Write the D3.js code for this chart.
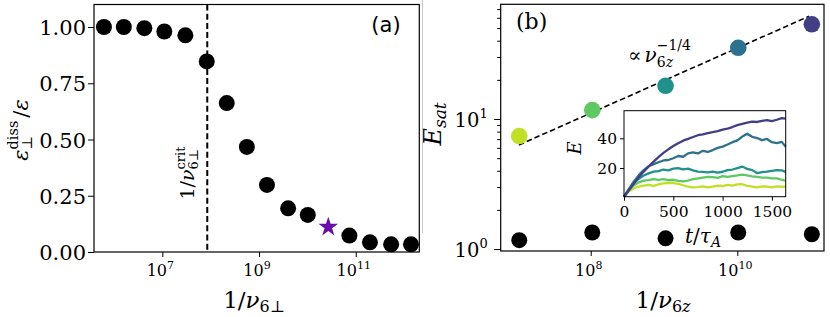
<!DOCTYPE html>
<html>
<head>
<meta charset="utf-8">
<style>
    body { margin: 0; background: #fff; }
    svg { display: block; }
    .dom path { display: none; }
    .dom line { stroke: #000; stroke-width: 1; }
</style>
<script src="https://d3js.org/d3.v7.min.js"></script>
</head>
<body>
<script>

var serif = "'DejaVu Serif', serif",
    sans = "'DejaVu Sans', sans-serif";

// panel (a): dissipation fraction vs 1/nu_6perp
var invNuPerp = [6.2e5, 1.6e6, 4.25e6, 1.1e7, 3.0e7, 8.3e7, 2.15e8, 5.6e8, 1.46e9, 4.0e9, 1.02e10, 7.4e10, 1.97e11, 5.4e11, 1.39e12];
var dissFrac  = [1.00, 1.00, 0.995, 0.98, 0.963, 0.847, 0.662, 0.467, 0.298, 0.194, 0.165, 0.073, 0.043, 0.034, 0.034];
var starX = [2.71e10];
var starY = [0.111];
var critNu = 8.5e7;
var yTicksA = [0, 0.25, 0.5, 0.75, 1.0];
var xTicksA = [1e7, 1e9, 1e11];

// panel (b): saturation energy vs 1/nu_6z
var invNuZ = [1.06e7, 1.05e8, 1.05e9, 1.03e10, 1.04e11];
var eSat   = [7.4, 11.7, 18.0, 35.3, 53.5];
var eLow   = [1.17, 1.34, 1.21, 1.34, 1.30];
var runColors = ["#c0df25", "#5ec962", "#21918c", "#2c718e", "#433e85"];
var fitX = [1.05e7, 0.95e11];
var fitCoef = 0.111, fitPow = 0.25;
var xTicksB = [1e8, 1e10];
var yTicksB = [1, 10];
var yMinorB = [2, 3, 4, 5, 6, 7, 8, 9, 20, 30, 40, 50, 60, 70];

// inset: E(t)
var tA = [0, 50, 100, 150, 200, 250, 300, 350, 400, 450, 500, 550, 600, 650, 700, 750, 800, 850, 900, 950, 1000, 1050, 1100, 1150, 1200, 1250, 1300, 1350, 1400, 1450, 1500, 1550, 1600, 1640];
var ePurple = [0.7, 5, 9.5, 13.8, 17.6, 21, 24.3, 27.4, 30.2, 32.6, 34.8, 36.7, 38.4, 39.6, 40.9, 42.1, 42.6, 43.5, 44.2, 44.8, 45.9, 46.6, 47.6, 48.9, 49.8, 50.6, 51.3, 51.0, 51.7, 52.3, 51.6, 52.5, 53.6, 53.2];
var eBlue   = [0.7, 6, 11, 15.2, 18.6, 21.2, 22.6, 23.9, 25.1, 25.4, 26.6, 28.1, 27.6, 29.9, 30.6, 29.8, 31.6, 30.8, 32.1, 33.6, 34.4, 35.8, 37.4, 38.6, 41.2, 43.1, 41, 40.2, 38.8, 39.6, 37.4, 36.8, 37.6, 34.3];
var eTeal   = [0.7, 5.6, 10, 12.8, 15, 16.4, 17.6, 17.9, 19, 18.4, 19.6, 20, 19.1, 19.6, 18.4, 17.6, 17.4, 17.1, 17.6, 16.9, 17.5, 18.6, 19, 20, 21, 19.4, 18.6, 16.6, 17.2, 17.6, 18.1, 18.6, 18.4, 17.4];
var eGreen  = [0.7, 5, 8.4, 10.4, 11.5, 11.9, 12.6, 12, 12.5, 11.8, 12.1, 11.4, 11, 11.6, 12.6, 13, 13.6, 14.1, 13.9, 13.4, 14.5, 14, 14.6, 15, 15.6, 15, 14.4, 14.1, 13.5, 13.6, 13, 13.1, 12.1, 11.6];
var eYellow = [0.7, 4.4, 6.4, 7.5, 8.1, 8.6, 8, 9, 9.6, 10.1, 9.9, 9.4, 8.4, 7.5, 7, 7.1, 7.6, 7, 7.5, 8.1, 7.9, 8.6, 8.1, 9, 9.1, 8, 7.5, 7, 7.6, 7.5, 7, 7.6, 7.4, 7.5];
var insetSeries = [eYellow, eGreen, eTeal, eBlue, ePurple];
var xTicksIn = [0, 500, 1000, 1500];
var yTicksIn = [20, 40];

var svg = d3.select("body").append("svg")
    .attr("width", 830)
    .attr("height", 317);

// lays out a small piece of math: parts are {s, it, fs, up, stack, dx, font}
// s may be a list of [text, italic] pairs
function mathText(parent, x, y, parts, anchor, rot) {
    var g = parent.append("g")
        .attr("transform", "translate(" + x + "," + y + ")" + (rot ? " rotate(" + rot + ")" : ""));
    var inner = g.append("g");
    var cx = 0, prevStart = 0, prevEnd = 0;
    parts.forEach(function(p) {
        var start = p.stack ? prevStart : cx + (p.dx || 0);
        var t = inner.append("text")
            .attr("x", start)
            .attr("y", -(p.up || 0))
            .attr("fill", "#000")
            .attr("text-anchor", "start")
            .style("font-family", p.font || serif)
            .style("font-size", p.fs + "px")
            .style("font-style", p.it ? "italic" : "normal");
        if (Array.isArray(p.s)) {
            p.s.forEach(function(piece) {
                t.append("tspan").style("font-style", piece[1] ? "italic" : "normal").text(piece[0]);
            });
        } else {
            t.text(p.s);
        }
        var end = start + t.node().getComputedTextLength();
        if (p.stack) {
            cx = Math.max(prevEnd, end);
        } else {
            cx = end;
            prevStart = start;
        }
        prevEnd = end;
    });
    if (anchor === "middle") inner.attr("transform", "translate(" + (-cx / 2) + ",0)");
    if (anchor === "end") inner.attr("transform", "translate(" + (-cx) + ",0)");
    return g;
}

function powLabel(sel, fs, efs, up, anchor) {
    sel.each(function(d) {
        var tick = d3.select(this);
        var txt = tick.select("text");
        var x = +txt.attr("x") || 0, y = +txt.attr("y") || 0;
        txt.remove();
        mathText(tick, x, y, [
            {s: "10", fs: fs},
            {s: String(Math.round(Math.log10(d))), fs: efs, up: up}
        ], anchor);
    });
}

// ---------------- panel (a) ----------------
var xA = d3.scaleLog().domain([Math.pow(10, 5.587), Math.pow(10, 12.315)]).range([94, 419.3]);
var yA = d3.scaleLinear().domain([0, 1.1]).range([252, 4.5]);

var gA = svg.append("g");

gA.append("g")
    .attr("class", "dom")
    .attr("transform", "translate(0,252)")
    .call(d3.axisBottom(xA).tickValues(xTicksA).tickSize(5).tickFormat(function() { return ""; }))
    .selectAll(".tick")
    .call(function(s) {
        s.select("text").attr("y", 24).attr("x", -2.5);
        powLabel(s, 16, 11, 7, "middle");
    });

gA.append("g")
    .attr("class", "dom")
    .attr("transform", "translate(94,0)")
    .call(d3.axisLeft(yA).tickValues(yTicksA).tickSize(6).tickPadding(2).tickFormat(d3.format(".2f")))
    .selectAll("text")
    .style("font-family", serif)
    .style("font-size", "21px")
    .attr("dy", "0.36em");

gA.append("line")
    .attr("x1", xA(critNu)).attr("x2", xA(critNu))
    .attr("y1", yA(1.1)).attr("y2", yA(0))
    .attr("stroke", "#000")
    .attr("stroke-width", 2)
    .attr("stroke-dasharray", "6,3.2");

gA.selectAll("circle.pt")
    .data(invNuPerp)
    .enter().append("circle")
    .attr("class", "pt")
    .attr("cx", function(d) { return xA(d); })
    .attr("cy", function(d, i) { return yA(dissFrac[i]); })
    .attr("r", 8)
    .attr("fill", "#000");

gA.selectAll("path.star")
    .data(starX)
    .enter().append("path")
    .attr("class", "star")
    .attr("transform", function(d, i) { return "translate(" + xA(d) + "," + yA(starY[i]) + ")"; })
    .attr("d", d3.symbol().type(d3.symbolStar).size(120))
    .attr("fill", "#6a0dad");

gA.append("rect")
    .attr("x", 94).attr("y", 4.5)
    .attr("width", 419.3 - 94).attr("height", 252 - 4.5)
    .attr("fill", "none").attr("stroke", "#000").attr("stroke-width", 1.2);

mathText(gA, 386, 32, [{s: "(a)", fs: 21, font: sans}], "middle");

// critical line label
mathText(gA, 194, 173, [
    {s: "1/", fs: 19},
    {s: "ν", fs: 19, it: true},
    {s: "crit", fs: 13, up: 9},
    {s: "6⊥", fs: 13, up: -4, stack: true}
], "middle", -90);

// axis labels
mathText(gA, 254, 308, [
    {s: "1/", fs: 23},
    {s: "ν", fs: 23, it: true},
    {s: "6⊥", fs: 16, up: -4}
], "middle");

mathText(gA, 28, 130, [
    {s: "ε", fs: 21, it: true},
    {s: "diss", fs: 14.5, up: 10},
    {s: "⊥", fs: 14.5, up: -4, stack: true},
    {s: "/", fs: 21, dx: 3},
    {s: "ε", fs: 21, it: true}
], "middle", -90);

// ---------------- panel (b) ----------------
var xB = d3.scaleLog().domain([Math.pow(10, 6.772), Math.pow(10, 11.183)]).range([500.7, 824]);
var yB = d3.scaleLog().domain([Math.pow(10, -0.015), Math.pow(10, 1.882)]).range([251, 4.3]);

var gB = svg.append("g");

svg.append("line")
    .attr("x1", 422.5).attr("x2", 422.5)
    .attr("y1", 0).attr("y2", 233)
    .attr("stroke", "#c8c8c8").attr("stroke-width", 1);

gB.append("g")
    .attr("class", "dom")
    .attr("transform", "translate(0,251)")
    .call(d3.axisBottom(xB).tickValues(xTicksB).tickSize(5).tickFormat(function() { return ""; }))
    .selectAll(".tick")
    .call(function(s) {
        s.select("text").attr("y", 25).attr("x", -2.5);
        powLabel(s, 16, 11, 7, "middle");
    });

gB.append("g")
    .attr("class", "dom")
    .attr("transform", "translate(500.7,0)")
    .call(d3.axisLeft(yB).tickValues(yMinorB).tickSize(3.5).tickFormat(function() { return ""; }));

gB.append("g")
    .attr("class", "dom")
    .attr("transform", "translate(500.7,0)")
    .call(d3.axisLeft(yB).tickValues(yTicksB).tickSize(6.5).tickFormat(function() { return ""; }))
    .selectAll(".tick")
    .call(function(s) {
        s.select("text").attr("x", -13).attr("y", 7);
        powLabel(s, 19.5, 13, 9, "end");
    });

gB.append("line")
    .attr("x1", xB(fitX[0])).attr("y1", yB(fitCoef * Math.pow(fitX[0], fitPow)))
    .attr("x2", xB(fitX[1])).attr("y2", yB(fitCoef * Math.pow(fitX[1], fitPow)))
    .attr("stroke", "#000")
    .attr("stroke-width", 1.6)
    .attr("stroke-dasharray", "5.5,3");

gB.selectAll("circle.sat")
    .data(invNuZ)
    .enter().append("circle")
    .attr("class", "sat")
    .attr("cx", function(d) { return xB(d); })
    .attr("cy", function(d, i) { return yB(eSat[i]); })
    .attr("r", 8.3)
    .attr("fill", function(d, i) { return runColors[i]; });

gB.selectAll("circle.low")
    .data(invNuZ)
    .enter().append("circle")
    .attr("class", "low")
    .attr("cx", function(d) { return xB(d); })
    .attr("cy", function(d, i) { return yB(eLow[i]); })
    .attr("r", 8)
    .attr("fill", "#000");

gB.append("rect")
    .attr("x", 500.7).attr("y", 4.3)
    .attr("width", 824 - 500.7).attr("height", 251 - 4.3)
    .attr("fill", "none").attr("stroke", "#000").attr("stroke-width", 1.2);

mathText(gB, 516, 29, [{s: "(b)", fs: 22}], "start");

mathText(gB, 628, 62, [
    {s: "∝", fs: 20},
    {s: "ν", fs: 20, it: true, dx: 3},
    {s: "−1/4", fs: 14, up: 12},
    {s: [["6", false], ["z", true]], fs: 14, up: -5, stack: true}
], "start");

mathText(gB, 663, 308, [
    {s: "1/", fs: 23},
    {s: "ν", fs: 23, it: true},
    {s: [["6", false], ["z", true]], fs: 16, up: -4}
], "middle");

mathText(gB, 441, 124, [
    {s: "E", fs: 24, it: true},
    {s: "sat", fs: 17, up: -5, it: true}
], "middle", -90);

// ---------------- inset ----------------
var xI = d3.scaleLinear().domain([0, 1640]).range([624, 785.7]);
var yI = d3.scaleLinear().domain([0.7, 58.6]).range([196.7, 110.7]);

var gI = svg.append("g");

gI.append("rect")
    .attr("x", 624).attr("y", 110.7)
    .attr("width", 785.7 - 624).attr("height", 196.7 - 110.7)
    .attr("fill", "#fff");

var line = d3.line()
    .x(function(d, i) { return xI(tA[i]); })
    .y(function(d) { return yI(d); });

gI.selectAll("path.run")
    .data(insetSeries)
    .enter().append("path")
    .attr("class", "run")
    .attr("d", line)
    .attr("fill", "none")
    .attr("stroke", function(d, i) { return runColors[i]; })
    .attr("stroke-width", 2.3)
    .attr("stroke-linejoin", "round");

gI.append("g")
    .attr("class", "dom")
    .attr("transform", "translate(0,196.7)")
    .call(d3.axisBottom(xI).tickValues(xTicksIn).tickSize(4).tickPadding(3).tickFormat(d3.format("d")))
    .selectAll("text")
    .style("font-family", serif)
    .style("font-size", "15.5px")
    .attr("dy", null)
    .attr("y", 20);

gI.append("g")
    .attr("class", "dom")
    .attr("transform", "translate(624,0)")
    .call(d3.axisLeft(yI).tickValues(yTicksIn).tickSize(4).tickPadding(3).tickFormat(d3.format("d")))
    .selectAll("text")
    .style("font-family", serif)
    .style("font-size", "15.5px")
    .attr("dy", "0.36em");

gI.append("rect")
    .attr("x", 624).attr("y", 110.7)
    .attr("width", 785.7 - 624).attr("height", 196.7 - 110.7)
    .attr("fill", "none").attr("stroke", "#000").attr("stroke-width", 1);

mathText(gI, 581, 148, [{s: "E", fs: 18, it: true}], "middle", -90);

mathText(gI, 703, 243, [
    {s: "t", fs: 20, it: true},
    {s: "/", fs: 20},
    {s: "τ", fs: 20, it: true},
    {s: "A", fs: 14, up: -4, it: true}
], "middle");

</script>
</body>
</html>
